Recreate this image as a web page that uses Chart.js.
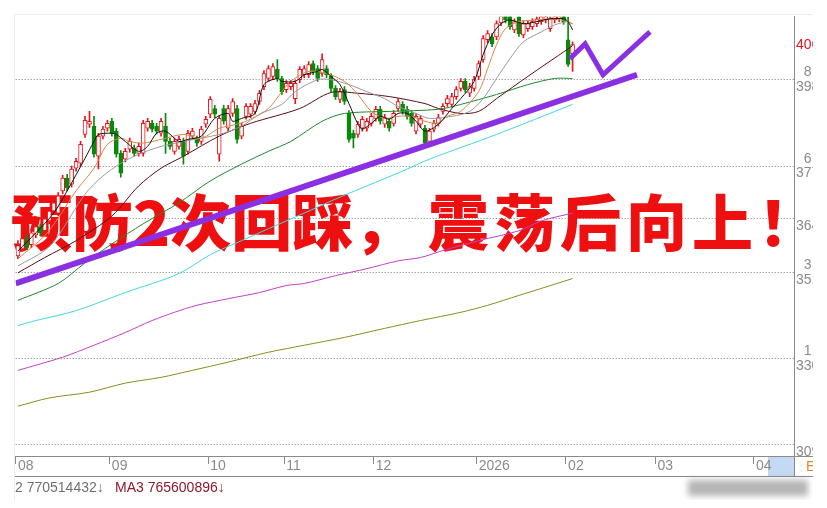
<!DOCTYPE html>
<html>
<head>
<meta charset="utf-8">
<script src="https://cdn.jsdelivr.net/npm/chart.js@4.4.1/dist/chart.umd.min.js"></script>
<style>
html, body { margin: 0; padding: 0; background: #fff; }
#wrap { position: absolute; left: 0; top: 0; width: 813px; height: 500px; }
</style>
</head>
<body>
<div id="wrap"><canvas id="kline" width="813" height="500"></canvas></div>
<script>
/* trading-day slots and month labels */
const slotCount = 174;
const monthStart = [0, 21, 43, 60, 80, 103, 123, 143, 165];
const monthName = ['08', '09', '10', '11', '12', '2026', '02', '03', '04'];

/* daily candles */
const opens = [3554,3571,3596,3581,3605,3625,3615,3639,3663,3658,
  3712,3743,3728,3767,3779,3849,3874,3869,3796,3845,
  3864,3881,3857,3803,3789,3813,3816,3803,3803,3864,
  3876,3869,3852,3869,3832,3808,3820,3832,3808,3845,
  3837,3832,3874,3898,3912,3801,3912,3864,3900,3912,
  3845,3893,3898,3905,3929,3965,3985,3990,4007,3985,
  3958,3965,3936,3982,3994,3994,4021,4009,3997,4009,
  3990,3961,3934,3958,3900,3852,3849,3864,3864,3876,
  3888,3910,3874,3881,3876,3912,3922,3910,3900,3857,
  3874,3864,3832,3862,3876,3905,3924,3922,3941,3961,
  3978,3949,3961,3990,4031,4079,4086,4086,4120,4145,
  4140,4103,4135,4091,4106,4111,4118,4123,4127,4106,
  4127,4130,4137,4079,4045];
const closes = [3579,3596,3576,3610,3625,3610,3644,3663,3683,3700,
  3743,3719,3765,3784,3825,3883,3881,3801,3845,3862,
  3876,3852,3801,3755,3808,3832,3803,3820,3876,3881,
  3862,3857,3881,3832,3820,3832,3837,3796,3852,3857,
  3828,3862,3886,3934,3898,3888,3881,3912,3929,3837,
  3869,3917,3917,3924,3949,3997,4009,4014,3985,3953,
  3973,3973,3973,4007,4009,4019,4002,3985,4031,3994,
  3961,3941,3953,3929,3837,3840,3874,3886,3881,3893,
  3910,3881,3890,3864,3900,3929,3905,3893,3876,3893,
  3888,3828,3857,3876,3890,3917,3936,3941,3958,3978,
  3958,3965,3982,4021,4082,4094,4069,4118,4140,4127,
  4111,4123,4094,4118,4118,4123,4130,4135,4137,4130,
  4137,4140,4123,4019,4067];
const highs = [3591,3603,3606,3617,3634,3632,3651,3670,3690,3708,
  3750,3752,3772,3791,3832,3893,3905,3893,3852,3869,
  3883,3888,3864,3810,3815,3840,3823,3828,3883,3888,
  3883,3876,3888,3900,3840,3840,3845,3840,3859,3864,
  3845,3869,3893,3941,3920,3895,3920,3920,3936,3920,
  3876,3924,3924,3932,3956,4004,4016,4021,4031,3990,
  3980,3980,3980,4014,4016,4026,4028,4016,4045,4016,
  3997,3968,3961,3965,3907,3859,3881,3893,3888,3900,
  3917,3917,3898,3888,3907,3936,3929,3917,3907,3900,
  3895,3871,3864,3883,3898,3924,3944,3949,3965,3985,
  3985,3973,3990,4028,4089,4101,4094,4125,4150,4150,
  4147,4130,4142,4125,4125,4130,4137,4142,4145,4137,
  4145,4147,4145,4135,4074];
const lows = [3547,3566,3569,3574,3598,3603,3610,3632,3656,3651,
  3705,3712,3721,3760,3772,3842,3866,3794,3765,3838,
  3857,3845,3794,3745,3782,3806,3796,3796,3796,3857,
  3855,3850,3845,3803,3813,3801,3813,3777,3801,3838,
  3820,3825,3866,3890,3890,3784,3874,3857,3893,3828,
  3838,3886,3890,3898,3922,3958,3978,3982,3978,3946,
  3951,3958,3924,3975,3987,3987,3994,3978,3990,3987,
  3953,3934,3926,3922,3830,3816,3842,3857,3857,3869,
  3881,3874,3866,3857,3869,3905,3898,3886,3869,3850,
  3866,3821,3825,3855,3869,3898,3917,3915,3934,3954,
  3951,3941,3954,3982,4024,4072,4062,4079,4113,4120,
  4104,4096,4087,4084,4099,4104,4111,4116,4120,4099,
  4120,4123,4116,4014,4002];

/* moving averages, [slot, value] */
const ma5 = [[0,3566],[4,3610],[8,3658],[11,3712],[15,3791],[17,3832],[18,3849],[21,3852],[22,3849],[24,3832],
  [27,3808],[29,3820],[31,3852],[33,3857],[36,3832],[38,3837],[41,3845],[44,3888],[47,3900],[48,3881],
  [50,3888],[53,3900],[55,3970],[58,3985],[59,3978],[62,3978],[64,3994],[67,4002],[68,4007],[70,3990],
  [72,3970],[74,3924],[76,3874],[77,3862],[79,3876],[81,3893],[83,3886],[85,3900],[87,3900],[89,3881],
  [91,3857],[94,3874],[97,3912],[99,3936],[102,3978],[104,4043],[106,4091],[108,4118],[110,4127],[113,4118],
  [116,4123],[119,4130],[122,4130],[123,4123],[124,4103]];
const ma10 = [[0,3547],[6,3603],[9,3646],[13,3712],[17,3767],[20,3825],[23,3840],[25,3832],[28,3828],[32,3837],
  [37,3849],[41,3840],[45,3864],[49,3874],[52,3886],[56,3912],[59,3953],[61,3978],[65,4002],[69,3997],
  [73,3978],[76,3946],[79,3905],[82,3888],[85,3893],[88,3893],[91,3881],[94,3876],[96,3893],[99,3905],
  [103,3953],[105,4009],[107,4067],[109,4106],[112,4123],[116,4127],[120,4130],[124,4118]];
const ma20 = [[0,3530],[6,3567],[9,3603],[15,3704],[19,3748],[23,3779],[27,3801],[30,3813],[32,3820],[37,3832],
  [45,3849],[50,3869],[54,3898],[59,3922],[62,3953],[67,3982],[70,3982],[74,3970],[78,3953],[82,3936],
  [85,3917],[89,3900],[92,3888],[97,3893],[101,3905],[104,3936],[107,3985],[110,4033],[113,4074],[117,4098],
  [120,4115],[123,4123],[124,4118]];
const ma30 = [[0,3513],[6,3550],[13,3591],[21,3651],[27,3724],[32,3767],[37,3796],[45,3845],[52,3876],[63,3912],
  [70,3951],[76,3949],[83,3941],[91,3924],[94,3912],[99,3900],[103,3905],[107,3936],[114,3990],[123,4057],[124,4065]];
const ma60 = [[0,3446],[9,3487],[15,3537],[21,3583],[28,3632],[36,3683],[43,3736],[50,3777],[56,3808],[61,3832],
  [68,3881],[73,3900],[83,3905],[94,3910],[99,3922],[107,3946],[114,3970],[120,3985],[124,3985]];
const ma120 = [[0,3385],[4,3397],[13,3421],[24,3465],[36,3511],[43,3557],[50,3591],[56,3620],[64,3658],[71,3692],
  [78,3724],[86,3760],[92,3789],[107,3849],[124,3922]];
const ma250 = [[0,3276],[10,3308],[17,3337],[24,3368],[30,3397],[35,3417],[40,3434],[47,3450],[54,3465],[60,3482],
  [64,3487],[71,3506],[78,3523],[85,3542],[90,3550],[95,3567],[103,3591],[112,3615],[117,3639],[124,3658]];
const maLong = [[0,3189],[7,3209],[16,3223],[24,3245],[32,3259],[39,3276],[47,3296],[56,3320],[64,3337],[73,3356],
  [82,3378],[90,3397],[99,3417],[105,3434],[112,3458],[117,3475],[124,3499]];

/* hand-drawn purple annotations */
const trendLine = [[-0.5,3487],[138.4,3994]];
const zigzag = [[123.4,4033],[126.8,4069],[130.8,3994],[141.3,4098]];

/* right axis */
const yTicks = [4067, 3982, 3772, 3644, 3513, 3305, 3095];
const yTickTop = ['', '8', '6', '', '3', '1', ''];
const lastPrice = 4067;

const labels = [];
for (let i = 0; i < slotCount; i++) {
  const k = monthStart.indexOf(i);
  labels.push(k >= 0 ? monthName[k] : '');
}

const upColor = '#e8141c';
const downColor = '#078a0b';
const isUp = closes.map((c, i) => c >= opens[i]);
const pts = arr => arr.map(p => ({x: p[0], y: p[1]}));

function maLine(arr, color, width) {
  return {
    type: 'line', xAxisID: 'xl', data: pts(arr),
    borderColor: color, borderWidth: width || 1,
    pointRadius: 0, tension: 0.3, order: 1
  };
}

const overlay = {
  id: 'overlay',
  beforeDraw(chart) {
    const ctx = chart.ctx;
    ctx.save();
    ctx.strokeStyle = '#ececec';
    ctx.beginPath();
    ctx.moveTo(14.5, 500); ctx.lineTo(14.5, 14.5); ctx.lineTo(813, 14.5);
    ctx.stroke();
    ctx.fillStyle = '#c3d9f4';
    ctx.fillRect(768, 457, 26, 19);
    ctx.restore();
  },
  beforeDatasetsDraw(chart) {
    const ctx = chart.ctx;
    ctx.save();
    ctx.font = '900 61px "Noto Sans CJK SC"';
    ctx.fillStyle = '#ee1010';
    ctx.textBaseline = 'middle';
    ctx.fillText('预防2次回踩，', 11, 223);
    ctx.letterSpacing = '5px';
    ctx.fillText('震荡后向上！', 428, 223);
    ctx.restore();
  },
  afterDraw(chart) {
    const ctx = chart.ctx;
    const area = chart.chartArea;
    ctx.save();
    ctx.strokeStyle = '#8a8a8a';
    ctx.lineWidth = 1;
    ctx.beginPath();
    ctx.moveTo(15, 476.5); ctx.lineTo(813, 476.5);
    ctx.moveTo(area.right, area.bottom + 0.5); ctx.lineTo(813, area.bottom + 0.5);
    ctx.moveTo(area.right + 0.5, area.bottom); ctx.lineTo(area.right + 0.5, 476.5);
    ctx.stroke();
    ctx.font = '14px "Liberation Sans", Arial, sans-serif';
    ctx.textBaseline = 'middle';
    ctx.fillStyle = '#e08a30';
    ctx.fillText('E', 806, 467);
    ctx.fillStyle = '#707070';
    ctx.fillText('2 770514432\u2193', 15, 488);
    ctx.fillStyle = '#8e1a2c';
    ctx.fillText('MA3 765600896\u2193', 115, 488);
    ctx.filter = 'blur(3px)';
    ctx.fillStyle = 'rgba(120,120,120,0.55)';
    ctx.fillRect(688, 480, 120, 16);
    ctx.restore();
  }
};

new Chart(document.getElementById('kline'), {
  type: 'bar',
  data: {
    labels: labels,
    datasets: [
      {
        type: 'line', xAxisID: 'xl', data: pts(trendLine),
        borderColor: '#8a2fe2', borderWidth: 6, pointRadius: 0, order: 0
      },
      {
        type: 'line', xAxisID: 'xl', data: pts(zigzag),
        borderColor: '#8a2fe2', borderWidth: 5, pointRadius: 0, order: 0,
        borderJoinStyle: 'miter', clip: false
      },
      maLine(ma5, '#111111'),
      maLine(ma10, '#d4884a'),
      maLine(ma20, '#9a9a9a'),
      maLine(ma30, '#5a0c14'),
      maLine(ma60, '#1f8a2a'),
      maLine(ma120, '#3fd6de'),
      maLine(ma250, '#c040c8'),
      maLine(maLong, '#8c8c1c'),
      {
        label: 'body', data: opens.map((o, i) => [o, closes[i]]),
        backgroundColor: isUp.map(u => u ? '#ffffff' : downColor),
        borderColor: isUp.map(u => u ? upColor : downColor),
        borderWidth: 1, borderSkipped: false, barThickness: 4,
        grouped: false, order: 2
      },
      {
        label: 'wick', data: lows.map((l, i) => [l, highs[i]]),
        backgroundColor: isUp.map(u => u ? upColor : downColor),
        borderWidth: 0, barThickness: 1, grouped: false, order: 3
      }
    ]
  },
  options: {
    responsive: false,
    animation: false,
    devicePixelRatio: 1,
    layout: { padding: { left: 15.7, top: 15, right: 0, bottom: 24 } },
    plugins: { legend: { display: false }, tooltip: { enabled: false } },
    scales: {
      x: {
        type: 'category',
        offset: true,
        grid: {
          offset: true, drawOnChartArea: false, drawTicks: true, tickLength: 8,
          color: c => monthStart.includes(c.index) ? '#8a8a8a' : 'rgba(0,0,0,0)'
        },
        border: { display: true, color: '#8a8a8a' },
        ticks: {
          autoSkip: false, maxRotation: 0, align: 'start', padding: -6,
          color: '#8a8a8a', font: { family: '"Liberation Sans", Arial, sans-serif', size: 14 }
        },
        afterFit: s => { s.height = 20; }
      },
      xl: {
        type: 'linear', display: false, offset: false,
        grid: { offset: false },
        min: -0.5, max: slotCount - 0.5
      },
      y: {
        position: 'right',
        min: 3068, max: 4135,
        afterBuildTicks: s => { s.ticks = yTicks.map(v => ({ value: v })); },
        grid: {
          drawTicks: false, lineWidth: 1,
          color: c => (c.tick && c.tick.value === lastPrice) ? 'rgba(0,0,0,0)' : '#7a7a7a'
        },
        border: { display: true, color: '#8a8a8a', dash: [1, 2] },
        ticks: {
          padding: 2, autoSkip: false,
          color: c => (c.tick && c.tick.value === lastPrice) ? '#e8141c' : '#8a8a8a',
          font: { family: '"Liberation Sans", Arial, sans-serif', size: 14, lineHeight: 1.05 },
          callback: v => {
            if (v === lastPrice) return String(v);
            return ['  ' + yTickTop[yTicks.indexOf(v)], String(v)];
          }
        },
        afterFit: s => { s.width = 19; }
      }
    }
  },
  plugins: [overlay]
});
</script>
</body>
</html>
